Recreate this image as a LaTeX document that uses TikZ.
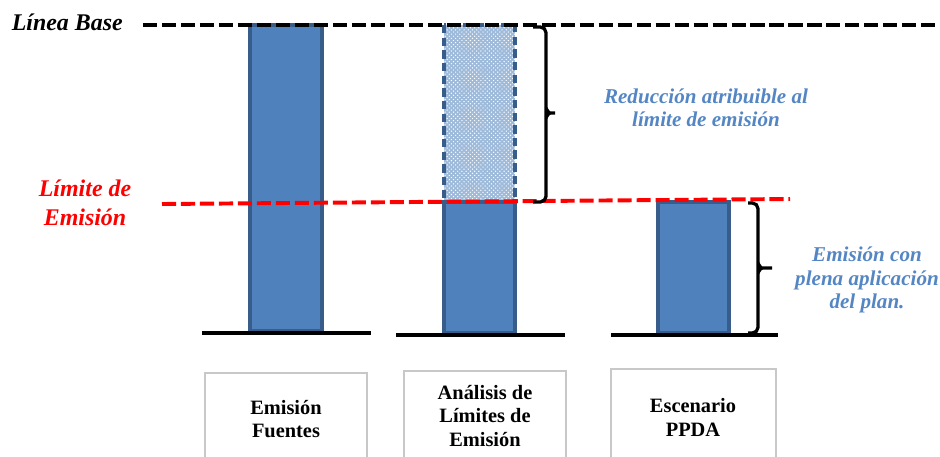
\documentclass[tikz,border=0pt]{standalone}
\usepackage{fontspec}
\setmainfont{Liberation Serif}
\usetikzlibrary{patterns}
\definecolor{barblue}{RGB}{79,129,189}
\definecolor{barline}{RGB}{56,93,138}
\definecolor{noteblue}{RGB}{84,134,196}
\definecolor{boxgray}{RGB}{200,200,200}
\begin{document}
\begin{tikzpicture}[x=0.025cm,y=-0.025cm,
    bar/.style={fill=barblue,draw=barline,line width=2.4pt},
    ground/.style={line width=3.5pt,black},
    level/.style={line width=2.8pt,dash pattern=on 10pt off 3.5pt},
    bracket/.style={line width=2.3pt,rounded corners=4pt},
    brackettip/.style={line width=2.3pt},
    caption/.style={draw=boxgray,line width=1pt},
    boxtext/.style={font=\bfseries\fontsize{14.5}{17}\selectfont,align=center},
    leveltext/.style={font=\bfseries\itshape\fontsize{17}{20.5}\selectfont,align=center},
    notetext/.style={font=\bfseries\itshape\fontsize{15}{16.5}\selectfont,text=noteblue,align=center}]
  \useasboundingbox (0,0) rectangle (940,456);

  % Draw the bars
  \draw[bar] (250,25) rectangle (322,331);
  \fill[barblue!55!white] (444,25) rectangle (515,202);
  \fill[pattern=crosshatch dots,pattern color=white] (444,25) rectangle (515,202);
  \draw[barline,line width=2.4pt,dash pattern=on 6pt off 3pt] (444,25) rectangle (515,202);
  \draw[bar] (444,202) rectangle (515,333);
  \draw[bar] (658,202) rectangle (729,333);

  % Add the ground lines
  \draw[ground] (202,333) -- (371,333);
  \draw[ground] (396,335) -- (565,335);
  \draw[ground] (611,335) -- (778,335);

  % Add the base line and the emission limit
  \draw[level,black] (143,25) -- (940,25);
  \draw[level,red] (162,204) -- (790,199);
  \node[leveltext,anchor=base east,inner sep=0pt] (base) at (123,30) {Línea Base};
  \node[leveltext,text=red] (limit) at (85,203) {Límite de\\Emisión};

  % Add the brackets and their notes
  \draw[bracket] (533,27) -| (546,202) -- (533,202);
  \draw[brackettip] (546,109) to[out=90,in=180] (550,113) -- (555,113);
  \draw[brackettip] (546,117) to[out=-90,in=180] (550,113);
  \draw[bracket] (748,203) -| (758,333) -- (748,333);
  \draw[brackettip] (758,264) to[out=90,in=180] (762,268) -- (772,268);
  \draw[brackettip] (758,272) to[out=-90,in=180] (762,268);
  \node[notetext] (reduction) at (706,108) {Reducción atribuible al\\límite de emisión};
  \node[notetext] (fullplan) at (867,280) {Emisión con\\plena aplicación\\del plan.};

  % Add the caption boxes
  \draw[caption] (205,460) |- (367,373) -- (367,460);
  \draw[caption] (404,460) |- (566,371) -- (566,460);
  \draw[caption] (611,460) |- (776,369) -- (776,460);
  \node[boxtext] (sources) at (286,419) {Emisión\\Fuentes};
  \node[boxtext] (analysis) at (485,416) {Análisis de\\Límites de\\Emisión};
  \node[boxtext] (ppda) at (693,417) {Escenario\\PPDA};
\end{tikzpicture}
\end{document}
